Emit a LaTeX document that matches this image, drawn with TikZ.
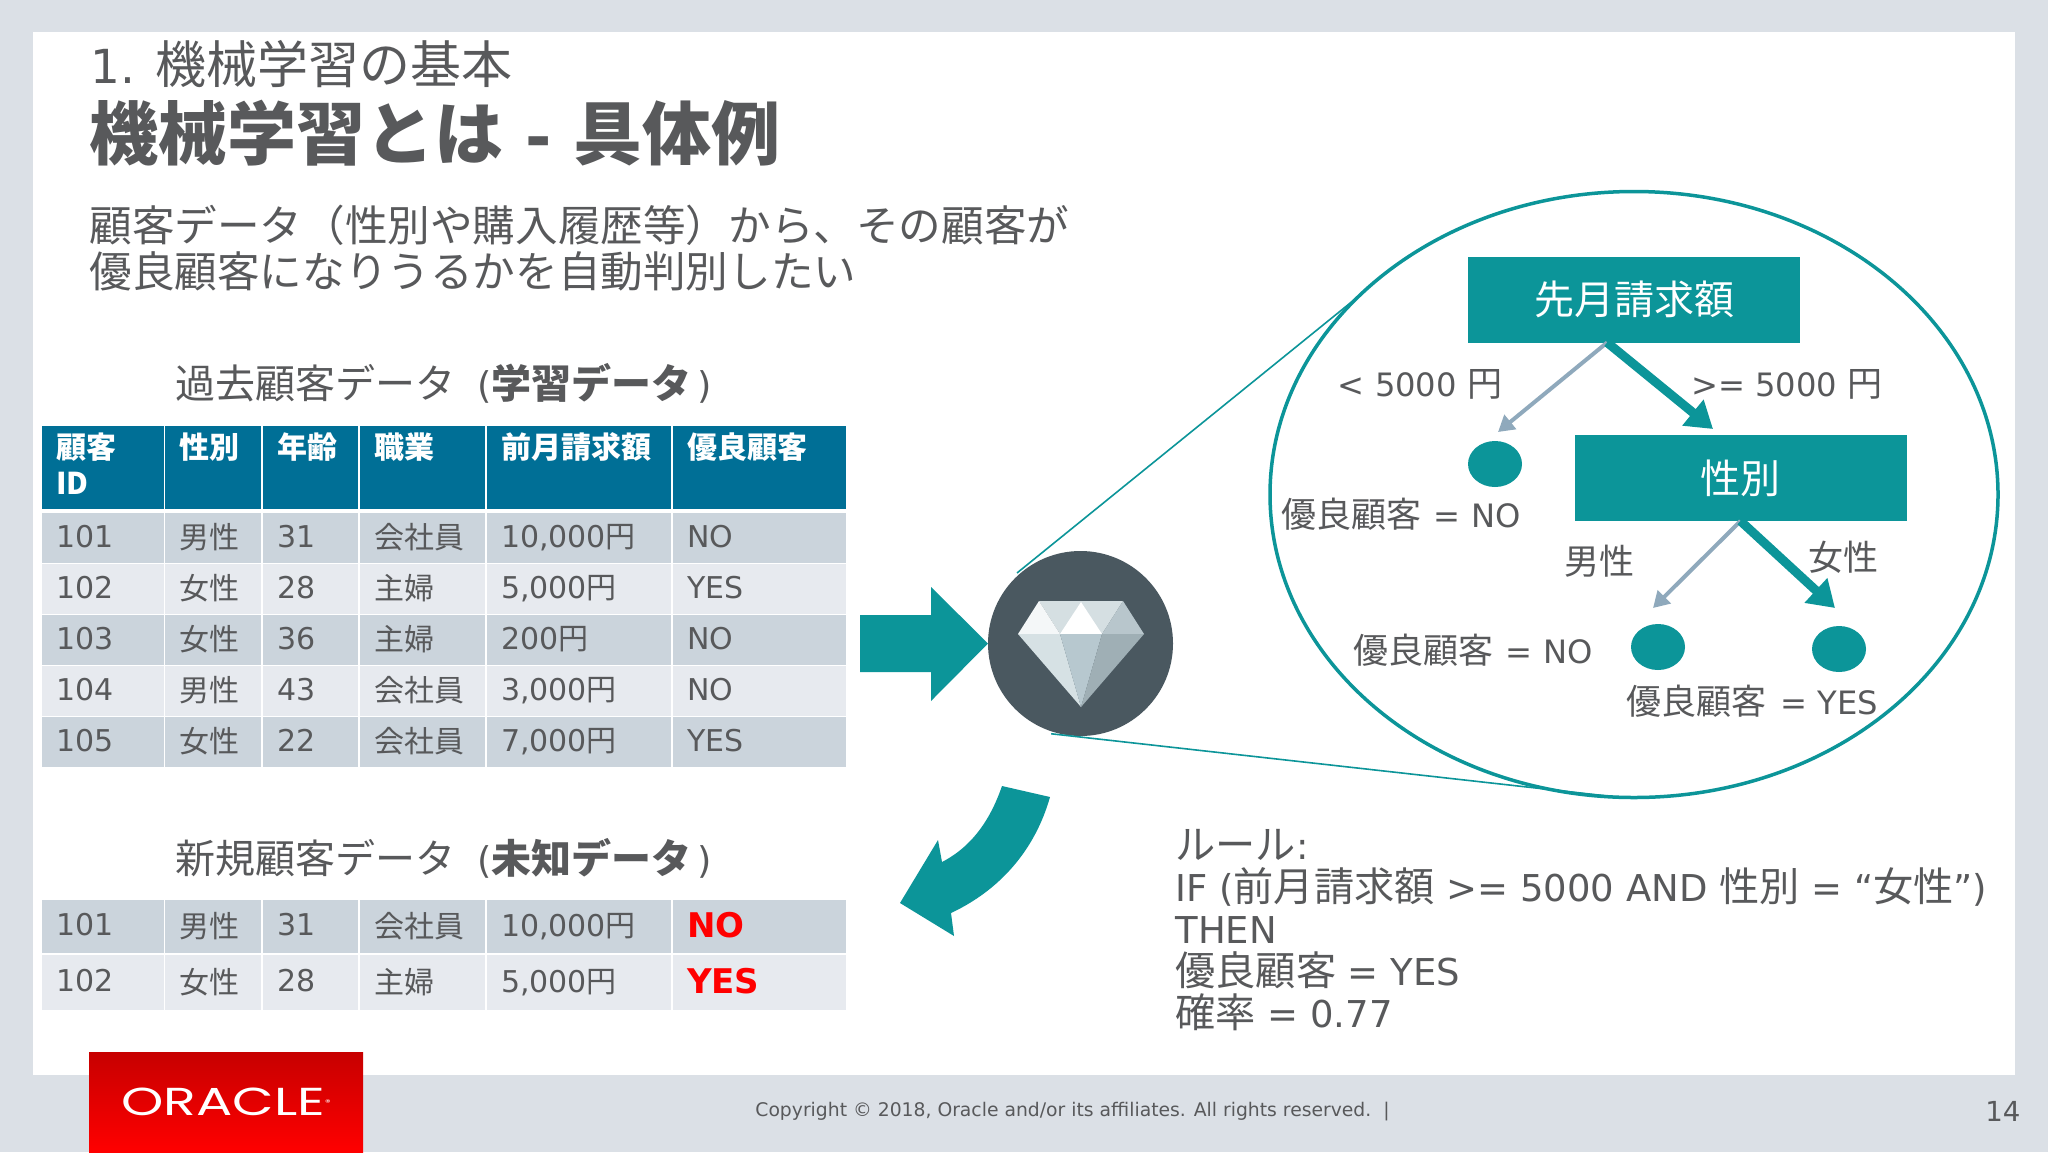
\documentclass[tikz,border=0pt]{standalone}
\usepackage{fontspec}
\usepackage{xcolor}
\usetikzlibrary{arrows.meta,shapes.geometric}
\setmainfont[Scale=0.92]{DejaVu Sans}
\newfontfamily\jp{Noto Sans CJK JP}
\newfontfamily\latwide{DejaVu Sans}
\newfontfamily\logofont[FakeStretch=1.38]{Poppins}
\definecolor{slidebg}{HTML}{DBE0E6}
\definecolor{inkgray}{HTML}{58595B}
\definecolor{tealbox}{HTML}{0C9599}
\definecolor{arrowgray}{HTML}{8FA9BC}
\definecolor{headblue}{HTML}{006F96}
\definecolor{rowdark}{HTML}{CBD4DC}
\definecolor{rowlight}{HTML}{E7EAEF}
\definecolor{gemdark}{HTML}{4A5860}
\definecolor{gemtop}{HTML}{D5DFE2}
\definecolor{gemshine}{HTML}{F4F7F8}
\definecolor{gemside}{HTML}{B8C6CC}
\definecolor{gemleft}{HTML}{D6E1E4}
\definecolor{gemmid}{HTML}{B7C8CF}
\definecolor{gemright}{HTML}{9FAFB5}
\tikzset{
  txt/.style={anchor=west,inner sep=0pt,text=inkgray},
  cell/.style={anchor=north west,inner xsep=7pt,inner ysep=0pt,outer sep=0pt,align=left,text=inkgray,font=\fontsize{15}{18}\selectfont\latwide},
  darkrow/.style={cell,fill=rowdark},
  lightrow/.style={cell,fill=rowlight},
  headcell/.style={anchor=north west,inner sep=0pt,outer sep=0pt,fill=headblue},
  headtext/.style={anchor=north west,inner xsep=7pt,inner ysep=3pt,align=left,text=white,font=\fontsize{15}{18}\selectfont\jp\bfseries},
  treebox/.style={fill=tealbox,text=white,minimum width=166pt,minimum height=43pt,inner sep=0pt,outer sep=0pt,font=\fontsize{20}{24}\selectfont\jp},
  leaf/.style={ellipse,fill=tealbox,minimum width=27pt,minimum height=23pt,inner sep=0pt,outer sep=0pt},
  treelabel/.style={inner sep=0pt,text=inkgray,font=\fontsize{17.5}{21}\selectfont},
  grayedge/.style={draw=arrowgray,line width=2pt,-{Triangle[length=8pt,width=9pt]}},
  tealedge/.style={draw=tealbox,line width=4.5pt,-{Triangle[length=13pt,width=16pt]}},
  zoomline/.style={draw=tealbox,line width=0.8pt},
}
\newcommand{\tablerow}[9]{%
  \foreach \col/\xpos/\colw/\celltext in {1/42/122/{#4},2/165/96/{#5},3/263/95/{#6},4/360/125/{#7},5/487/184/{#8},6/673/173/{#9}}{
    \node[#3,minimum width=\colw*0.5pt,text width=\colw*0.5pt-14pt] (#1-\col) at (\xpos,#2) {\raisebox{1.7pt}{\celltext}};
  }%
}
\newcommand{\redmark}[1]{\textcolor{red}{\fontsize{17}{20}\selectfont\bfseries #1}}
\begin{document}
\begin{tikzpicture}[x=0.5pt,y=-0.5pt]
  \useasboundingbox (0,0) rectangle (2048,1152);
  \fill[slidebg] (0,0) rectangle (2048,1152);
  \fill[white] (33,32) rectangle (2015,1075);

  % titles
  \node[txt,font=\fontsize{25.5}{30}\selectfont] (section) at (90,64) {1. {\jp 機械学習の基本}};
  \node[txt,font=\fontsize{34.5}{40}\selectfont\bfseries] (title) at (89,133) {{\jp 機械学習とは} - {\jp 具体例}};
  \node[txt,font=\fontsize{21.3}{23}\selectfont\jp,align=left] (intro) at (89,248) {顧客データ（性別や購入履歴等）から、その顧客が\\優良顧客になりうるかを自動判別したい};

  % training data
  \node[txt,font=\fontsize{20}{24}\selectfont] (train-title) at (175,383) {{\jp 過去顧客データ}\hspace{5pt} ({\jp\bfseries 学習データ}\hspace{3pt})};
  \foreach \col/\xpos/\colw/\celltext in {1/42/122/{顧客\\ID},2/165/96/性別,3/263/95/年齢,4/360/125/職業,5/487/184/前月請求額,6/673/173/優良顧客}{
    \node[headcell,minimum width=\colw*0.5pt,minimum height=41.5pt] (head-\col) at (\xpos,426) {};
    \node[headtext] at (head-\col.north west) {\celltext};
  }
  \tablerow{train-a}{513}{darkrow,minimum height=25pt}{101}{\jp 男性}{31}{\jp 会社員}{10,000{\jp 円}}{NO}
  \tablerow{train-b}{564}{lightrow,minimum height=25pt}{102}{\jp 女性}{28}{\jp 主婦}{5,000{\jp 円}}{YES}
  \tablerow{train-c}{615}{darkrow,minimum height=25pt}{103}{\jp 女性}{36}{\jp 主婦}{200{\jp 円}}{NO}
  \tablerow{train-d}{666}{lightrow,minimum height=25pt}{104}{\jp 男性}{43}{\jp 会社員}{3,000{\jp 円}}{NO}
  \tablerow{train-e}{717}{darkrow,minimum height=25pt}{105}{\jp 女性}{22}{\jp 会社員}{7,000{\jp 円}}{YES}

  % new data
  \node[txt,font=\fontsize{20}{24}\selectfont] (new-title) at (175,858) {{\jp 新規顧客データ}\hspace{5pt} ({\jp\bfseries 未知データ}\hspace{3pt})};
  \tablerow{new-a}{900}{darkrow,minimum height=26.5pt}{101}{\jp 男性}{31}{\jp 会社員}{10,000{\jp 円}}{\redmark{NO}}
  \tablerow{new-b}{955}{lightrow,minimum height=27.5pt}{102}{\jp 女性}{28}{\jp 主婦}{5,000{\jp 円}}{\redmark{YES}}

  % arrows and gem
  \fill[tealbox] (860,615) -- (931,615) -- (931,587) -- (988,643.5) -- (931,701) -- (931,672) -- (860,672) -- cycle;
  \fill[tealbox] (1002,786) -- (1050,797) .. controls (1035,850) and (1000,890) .. (951,913)
    -- (954,936) -- (900,903) -- (938,840) -- (942,862) .. controls (975,845) and (992,815) .. (1002,786) -- cycle;
  \node[circle,fill=gemdark,minimum size=92.5pt,inner sep=0pt,outer sep=1.2pt] (model) at (1080.5,643.5) {};
  \fill[gemtop] (1039,601) -- (1123,601) -- (1102,634) -- (1060,634) -- cycle;
  \fill[gemshine] (1018,634) -- (1039,601) -- (1060,634) -- cycle;
  \fill[white] (1060,634) -- (1081,602) -- (1102,634) -- cycle;
  \fill[gemside] (1123,601) -- (1144,634) -- (1102,634) -- cycle;
  \fill[gemleft] (1018,634) -- (1060,634) -- (1081,707) -- cycle;
  \fill[gemmid] (1060,634) -- (1102,634) -- (1081,707) -- cycle;
  \fill[gemright] (1102,634) -- (1144,634) -- (1081,707) -- cycle;

  % decision tree
  \node[ellipse,draw=tealbox,line width=1.75pt,minimum width=364pt,minimum height=303pt,inner sep=0pt,outer sep=0pt] (zone) at (1634,494.5) {};
  \draw[zoomline] (model.132) -- (zone.144.6);
  \draw[zoomline] (model.252) -- (zone.267.2);
  \node[treebox] (billing) at (1634,299.5) {先月請求額};
  \node[treebox] (gender) at (1740.5,478) {性別};
  \node[leaf] (leaf-low) at (1495,464) {};
  \node[leaf] (leaf-male) at (1658,647) {};
  \node[leaf] (leaf-female) at (1839,649) {};
  \coordinate (tip-low) at (1498,432);
  \coordinate (tip-high) at (1713,429);
  \coordinate (tip-male) at (1653,608);
  \coordinate (tip-female) at (1835,608);
  \draw[grayedge] (billing.238) -- (tip-low);
  \draw[tealedge] (billing.238) -- (tip-high);
  \draw[grayedge] (gender.south) -- (tip-male);
  \draw[tealedge] (gender.south) -- (tip-female);
  \node[treelabel] (label-low) at (1420,384) {< 5000 {\jp 円}};
  \node[treelabel] (label-high) at (1787,384) {>= 5000 {\jp 円}};
  \node[treelabel] (label-male) at (1599,561) {\jp 男性};
  \node[treelabel] (label-female) at (1843,557) {\jp 女性};
  \node[treelabel] (result-low) at (1401,514) {{\jp 優良顧客}\hspace{1pt} = NO};
  \node[treelabel] (result-male) at (1473,650) {{\jp 優良顧客}\hspace{1pt} = NO};
  \node[treelabel] (result-female) at (1752,701) {{\jp 優良顧客}\hspace{2pt} = YES};

  % rule
  \node[txt,align=left,font=\fontsize{20.1}{21}\selectfont] (rule) at (1175,930) {{\jp ルール}:\\IF ({\jp 前月請求額} >= 5000 AND {\jp 性別} = “{\jp 女性}”)\\THEN\\{\jp 優良顧客} = YES\\{\jp 確率} = 0.77};

  % footer
  \node[top color=red!78!black,bottom color=red,inner sep=0pt,outer sep=0pt,minimum width=137pt,minimum height=50pt,text=white,font=\logofont\fontsize{19.5}{20}\selectfont] (logo) at (226,1102) {ORACLE\raisebox{5pt}{\fontsize{4}{5}\selectfont ®}};
  \node[txt,font=\fontsize{10.2}{13}\selectfont] (copyright) at (755,1112) {Copyright © 2018, Oracle and/or its affiliates. All rights reserved.\ \ |};
  \node[txt,font=\fontsize{15}{18}\selectfont] (page) at (1985,1111) {14};
\end{tikzpicture}
\end{document}
